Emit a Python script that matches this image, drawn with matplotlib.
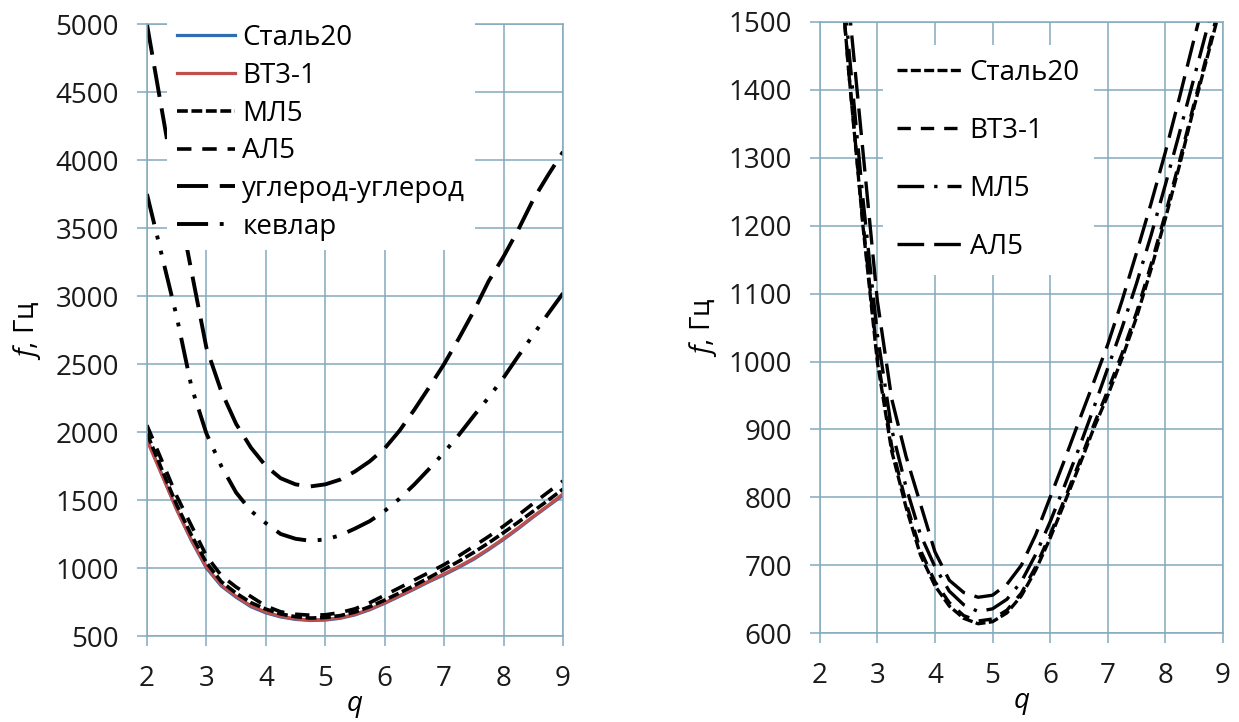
import matplotlib
matplotlib.use('Agg')
import matplotlib.pyplot as plt

plt.rcParams['font.family'] = ['Open Sans', 'DejaVu Sans']
plt.rcParams['mathtext.fontset'] = 'custom'
plt.rcParams['mathtext.it'] = 'Open Sans:italic'
plt.rcParams['mathtext.rm'] = 'Open Sans'

# q values shared by all curves
q = [2.0, 2.25, 2.5, 2.75, 3.0, 3.25, 3.5, 3.75, 4.0, 4.25, 4.5, 4.75, 5.0, 5.25, 5.5,
     5.75, 6.0, 6.25, 6.5, 6.75, 7.0, 7.25, 7.5, 7.75, 8.0, 8.25, 8.5, 8.75, 9.0]

# frequencies, Hz
stal20 = [1950, 1690, 1430, 1200, 1000, 868, 785, 715, 670, 640, 622, 614, 617, 630, 655,
          693, 740, 792, 845, 900, 950, 1005, 1065, 1135, 1210, 1290, 1375, 1455, 1535]
vt3_1 = [1940, 1685, 1430, 1205, 1008, 875, 792, 722, 676, 645, 626, 618, 621, 634, 659,
         698, 745, 797, 850, 905, 957, 1012, 1072, 1142, 1217, 1296, 1380, 1460, 1545]
ml5 = [1990, 1725, 1465, 1240, 1040, 900, 815, 745, 698, 662, 642, 632, 636, 650, 676,
       716, 764, 817, 872, 930, 990, 1050, 1115, 1185, 1260, 1338, 1418, 1498, 1580]
al5 = [2050, 1790, 1530, 1310, 1090, 945, 860, 790, 720, 678, 660, 653, 656, 672, 700,
       745, 800, 855, 912, 968, 1025, 1090, 1160, 1232, 1308, 1390, 1475, 1558, 1640]
carbon = [5000, 4370, 3745, 3180, 2620, 2300, 2060, 1885, 1750, 1660, 1615, 1600, 1615, 1650, 1710,
          1785, 1880, 2010, 2165, 2330, 2500, 2690, 2890, 3110, 3290, 3490, 3710, 3890, 4060]
kevlar = [3750, 3300, 2850, 2330, 1990, 1750, 1555, 1420, 1330, 1250, 1215, 1200, 1210, 1240, 1290,
          1345, 1420, 1510, 1615, 1730, 1850, 1980, 2120, 2255, 2400, 2560, 2715, 2870, 3020]

left_labels = ['Сталь20', 'ВТ3-1', 'МЛ5', 'АЛ5', 'углерод-углерод', 'кевлар']
right_labels = ['Сталь20', 'ВТ3-1', 'МЛ5', 'АЛ5']

grid_color = '#84AABC'
fs = 20

fig = plt.figure(figsize=(12.39, 7.22), dpi=100)
ax1 = fig.add_axes([0.1186, 0.1191, 0.3358, 0.8476])
ax2 = fig.add_axes([0.6616, 0.1229, 0.3254, 0.8467])

# left chart
ax1.plot(q, stal20, color='#2E6DB4', lw=2.3, label=left_labels[0])
ax1.plot(q, vt3_1, color='#C0504D', lw=2.3, label=left_labels[1])
ax1.plot(q, ml5, color='black', lw=2.6, dashes=(3, 1), label=left_labels[2])
ax1.plot(q, al5, color='black', lw=2.6, dashes=(4, 3), label=left_labels[3])
ax1.plot(q, carbon, color='black', lw=2.8, dashes=(8, 3), label=left_labels[4])
ax1.plot(q, kevlar, color='black', lw=2.8, dashes=(8, 3, 1, 3, 1, 3), label=left_labels[5])
ax1.set_xlim(2, 9)
ax1.set_ylim(500, 5000)
ax1.set_yticks(range(500, 5001, 500))

# right chart
ax2.plot(q, stal20, color='black', lw=2.4, dashes=(3, 1), label=right_labels[0])
ax2.plot(q, vt3_1, color='black', lw=2.4, dashes=(4, 3), label=right_labels[1])
ax2.plot(q, ml5, color='black', lw=2.4, dashes=(8, 3, 1, 3), label=right_labels[2])
ax2.plot(q, al5, color='black', lw=2.4, dashes=(8, 3), label=right_labels[3])
ax2.set_xlim(2, 9)
ax2.set_ylim(600, 1500)
ax2.set_yticks(range(600, 1501, 100))

for ax in (ax1, ax2):
    ax.set_xticks(range(2, 10))
    ax.grid(True, color=grid_color, lw=1.1)
    ax.set_axisbelow(True)
    for s in ax.spines.values():
        s.set_color(grid_color)
        s.set_linewidth(1.1)
    ax.tick_params(axis='both', colors=grid_color, labelcolor='#1a1a1a',
                   length=7, width=1.1, labelsize=fs)
    ax.tick_params(axis='y', pad=13)
    ax.tick_params(axis='x', pad=14)
    ax.set_xlabel('q', fontstyle='italic', fontsize=fs)
    ax.set_ylabel(r'$f$, Гц', fontsize=fs)
    ax.xaxis.set_label_coords(0.5, -0.088)
    ax.yaxis.set_label_coords(-0.25, 0.5)

leg1 = ax1.legend(loc='upper left', bbox_to_anchor=(0.135, 0.98), bbox_transform=fig.transFigure,
                  borderaxespad=0, frameon=True, fancybox=False, framealpha=1,
                  edgecolor='none', facecolor='white', fontsize=fs,
                  handlelength=2.1, handletextpad=0.25, labelspacing=0.35, borderpad=0.35)
leg2 = ax2.legend(loc='upper left', bbox_to_anchor=(0.713, 0.938), bbox_transform=fig.transFigure,
                  borderaxespad=0, frameon=True, fancybox=False, framealpha=1,
                  edgecolor='none', facecolor='white', fontsize=fs,
                  handlelength=2.3, handletextpad=0.3, labelspacing=1.08, borderpad=0.5)

plt.savefig('out.png', dpi=100)
